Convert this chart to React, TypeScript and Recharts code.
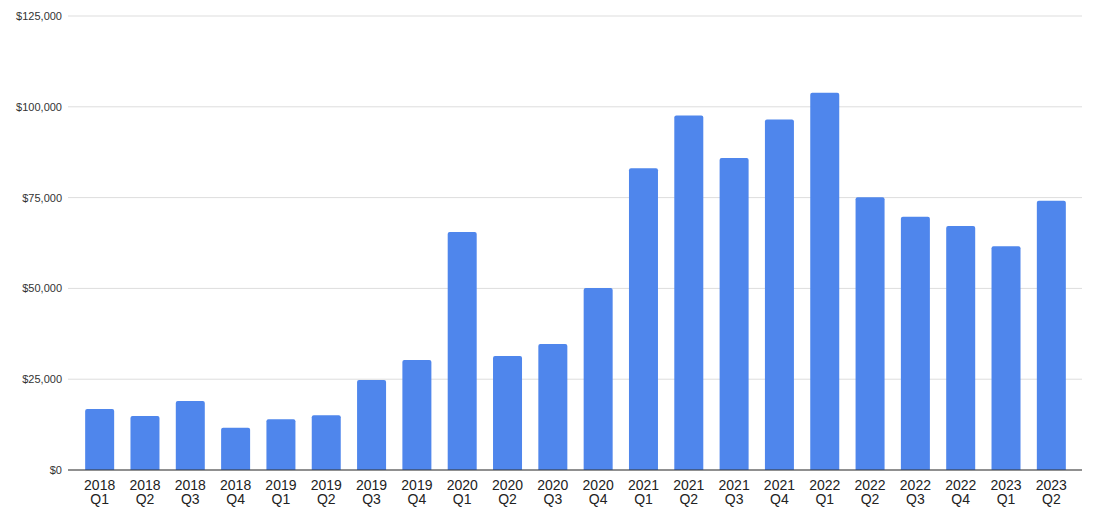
import React from "react";
import { BarChart, Bar, XAxis, YAxis, CartesianGrid } from "recharts";

const categories = [
  "2018 Q1", "2018 Q2", "2018 Q3", "2018 Q4",
  "2019 Q1", "2019 Q2", "2019 Q3", "2019 Q4",
  "2020 Q1", "2020 Q2", "2020 Q3", "2020 Q4",
  "2021 Q1", "2021 Q2", "2021 Q3", "2021 Q4",
  "2022 Q1", "2022 Q2", "2022 Q3", "2022 Q4",
  "2023 Q1", "2023 Q2",
];

const revenue = [
  16800, 14900, 19000, 11600,
  14000, 15100, 24800, 30300,
  65500, 31400, 34700, 50100,
  83100, 97600, 85900, 96500,
  103900, 75100, 69700, 67200,
  61600, 74100,
];

const yTicks = [0, 25000, 50000, 75000, 100000, 125000];

const data = categories.map((c, i) => ({ label: c, value: revenue[i] }));

const fmt = (v: number) => "$" + v.toLocaleString("en-US");

const XTick = (props: any) => {
  const { x, y, payload } = props;
  const [yr, q] = String(payload.value).split(" ");
  return (
    <g transform={`translate(${x},${y})`}>
      <text textAnchor="middle" fill="#222" fontSize={14} fontFamily="Liberation Sans, Arial, sans-serif">
        <tspan x={0} dy={12}>{yr}</tspan>
        <tspan x={0} dy={14}>{q}</tspan>
      </text>
    </g>
  );
};

export default function App() {
  return (
    <div style={{ position: "absolute", left: 0, top: 0, background: "#fff" }}>
      <BarChart
        width={1095}
        height={512}
        data={data}
        margin={{ top: 16, right: 13, bottom: 12, left: 0 }}
        barCategoryGap="18%"
      >
        <CartesianGrid vertical={false} stroke="#dddddd" />
        <XAxis
          dataKey="label"
          tick={<XTick />}
          tickLine={false}
          axisLine={{ stroke: "#333333" }}
          interval={0}
          height={30}
          padding={{ left: 9, right: 8 }}
        />
        <YAxis
          width={68}
          domain={[0, 125000]}
          ticks={yTicks}
          tickFormatter={fmt}
          axisLine={false}
          tickLine={false}
          tickSize={0}
          tickMargin={6}
          tick={{ fill: "#333", fontSize: 11, fontFamily: "Liberation Sans, Arial, sans-serif" }}
        />
        <Bar dataKey="value" fill="#4f86ec" radius={[2, 2, 0, 0]} isAnimationActive={false} />
      </BarChart>
    </div>
  );
}
